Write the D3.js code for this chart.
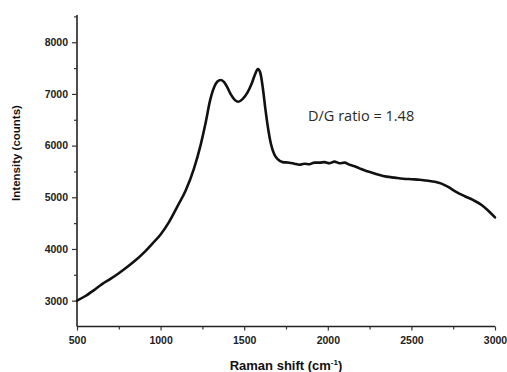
<!DOCTYPE html>
<html><head><meta charset="utf-8">
<script src="https://cdn.jsdelivr.net/npm/d3@7/dist/d3.min.js"></script>
<style>
html,body{margin:0;padding:0;background:#fff;}
svg{display:block;}
</style></head>
<body>
<svg id="c" width="507" height="372"></svg>
<script>
const ramanShift = [500,550,600,650,700,750,800,850,900,950,1000,1050,1100,1150,1200,1240,1270,1295,1320,1340,1360,1380,1400,1420,1445,1465,1490,1520,1545,1565,1582,1597,1612,1627,1642,1660,1680,1700,1730,1770,1800,1830,1860,1890,1920,1950,1980,2010,2040,2070,2100,2130,2160,2190,2230,2270,2310,2350,2400,2450,2500,2550,2600,2640,2680,2720,2770,2820,2870,2920,2960,3000];
const intensity = [3000,3090,3200,3320,3420,3530,3650,3780,3930,4100,4280,4520,4820,5130,5560,6020,6450,6860,7130,7240,7270,7230,7120,6990,6880,6850,6900,7030,7200,7380,7480,7400,7100,6700,6350,6030,5830,5740,5680,5670,5650,5630,5650,5640,5670,5670,5680,5660,5690,5660,5670,5630,5600,5560,5510,5470,5430,5400,5380,5360,5350,5340,5320,5300,5265,5200,5100,5020,4945,4850,4740,4610];
const xTicks = [500,1000,1500,2000,2500,3000];
const xMinor = [750,1250,1750,2250,2750];
const yTicks = [3000,4000,5000,6000,7000,8000];
const yMinor = [3500,4500,5500,6500,7500,8500];
const xTitle = "Raman shift (cm";
const yTitle = "Intensity (counts)";
const note = "D/G ratio = 1.48";

const svg = d3.select("#c");
const x = d3.scaleLinear().domain([500,3000]).range([77,495]);
const y = d3.scaleLinear().domain([2500,8500]).range([326.5,16.4]);

const font = "'Liberation Sans', Arial, sans-serif";

const gx = svg.append("g").attr("transform","translate(0,326.5)")
  .call(d3.axisBottom(x).tickValues(xTicks).tickSize(4).tickPadding(6).tickFormat(d3.format("d")));
svg.append("g").attr("transform","translate(0,326.5)")
  .call(d3.axisBottom(x).tickValues(xMinor).tickSize(3).tickFormat(""))
  .select(".domain").remove();
const gy = svg.append("g").attr("transform","translate(77,0)")
  .call(d3.axisLeft(y).tickValues(yTicks).tickSize(5).tickPadding(4).tickFormat(d3.format("d")));
svg.append("g").attr("transform","translate(77,0)")
  .call(d3.axisLeft(y).tickValues(yMinor).tickSize(3).tickFormat(""))
  .select(".domain").remove();

svg.selectAll(".domain").attr("stroke","#222").attr("stroke-width",1.6);
svg.selectAll(".tick line").attr("stroke","#333").attr("stroke-width",1.2);
svg.selectAll(".tick text").attr("font-family",font).attr("font-weight","bold")
  .attr("font-size","10.5px").attr("fill","#222");
gy.selectAll(".domain").attr("d","M0,326.5V15");
gx.selectAll(".domain").attr("d","M77,0H495");

const line = d3.line().x((d,i)=>x(ramanShift[i])).y(d=>y(d)).curve(d3.curveMonotoneX);
svg.append("path").datum(intensity).attr("d",line)
  .attr("fill","none").attr("stroke","#111").attr("stroke-width",2.6)
  .attr("stroke-linejoin","round").attr("stroke-linecap","round");

const xt = svg.append("text").attr("x",286).attr("y",370).attr("text-anchor","middle")
  .attr("font-family",font).attr("font-weight","bold").attr("font-size","13px").attr("fill","#111");
xt.append("tspan").text(xTitle);
xt.append("tspan").attr("font-size","8px").attr("dy",-5).text("-1");
xt.append("tspan").attr("dy",5).text(")");

svg.append("text").attr("transform","translate(20,153) rotate(-90)").attr("text-anchor","middle")
  .attr("font-family",font).attr("font-weight","bold").attr("font-size","11.5px").attr("fill","#111")
  .text(yTitle);

svg.append("text").attr("x",308).attr("y",121).attr("font-family","'Open Sans', sans-serif")
  .attr("font-size","14.5px").attr("fill","#2a2a2a").text(note);
</script>
</body></html>
